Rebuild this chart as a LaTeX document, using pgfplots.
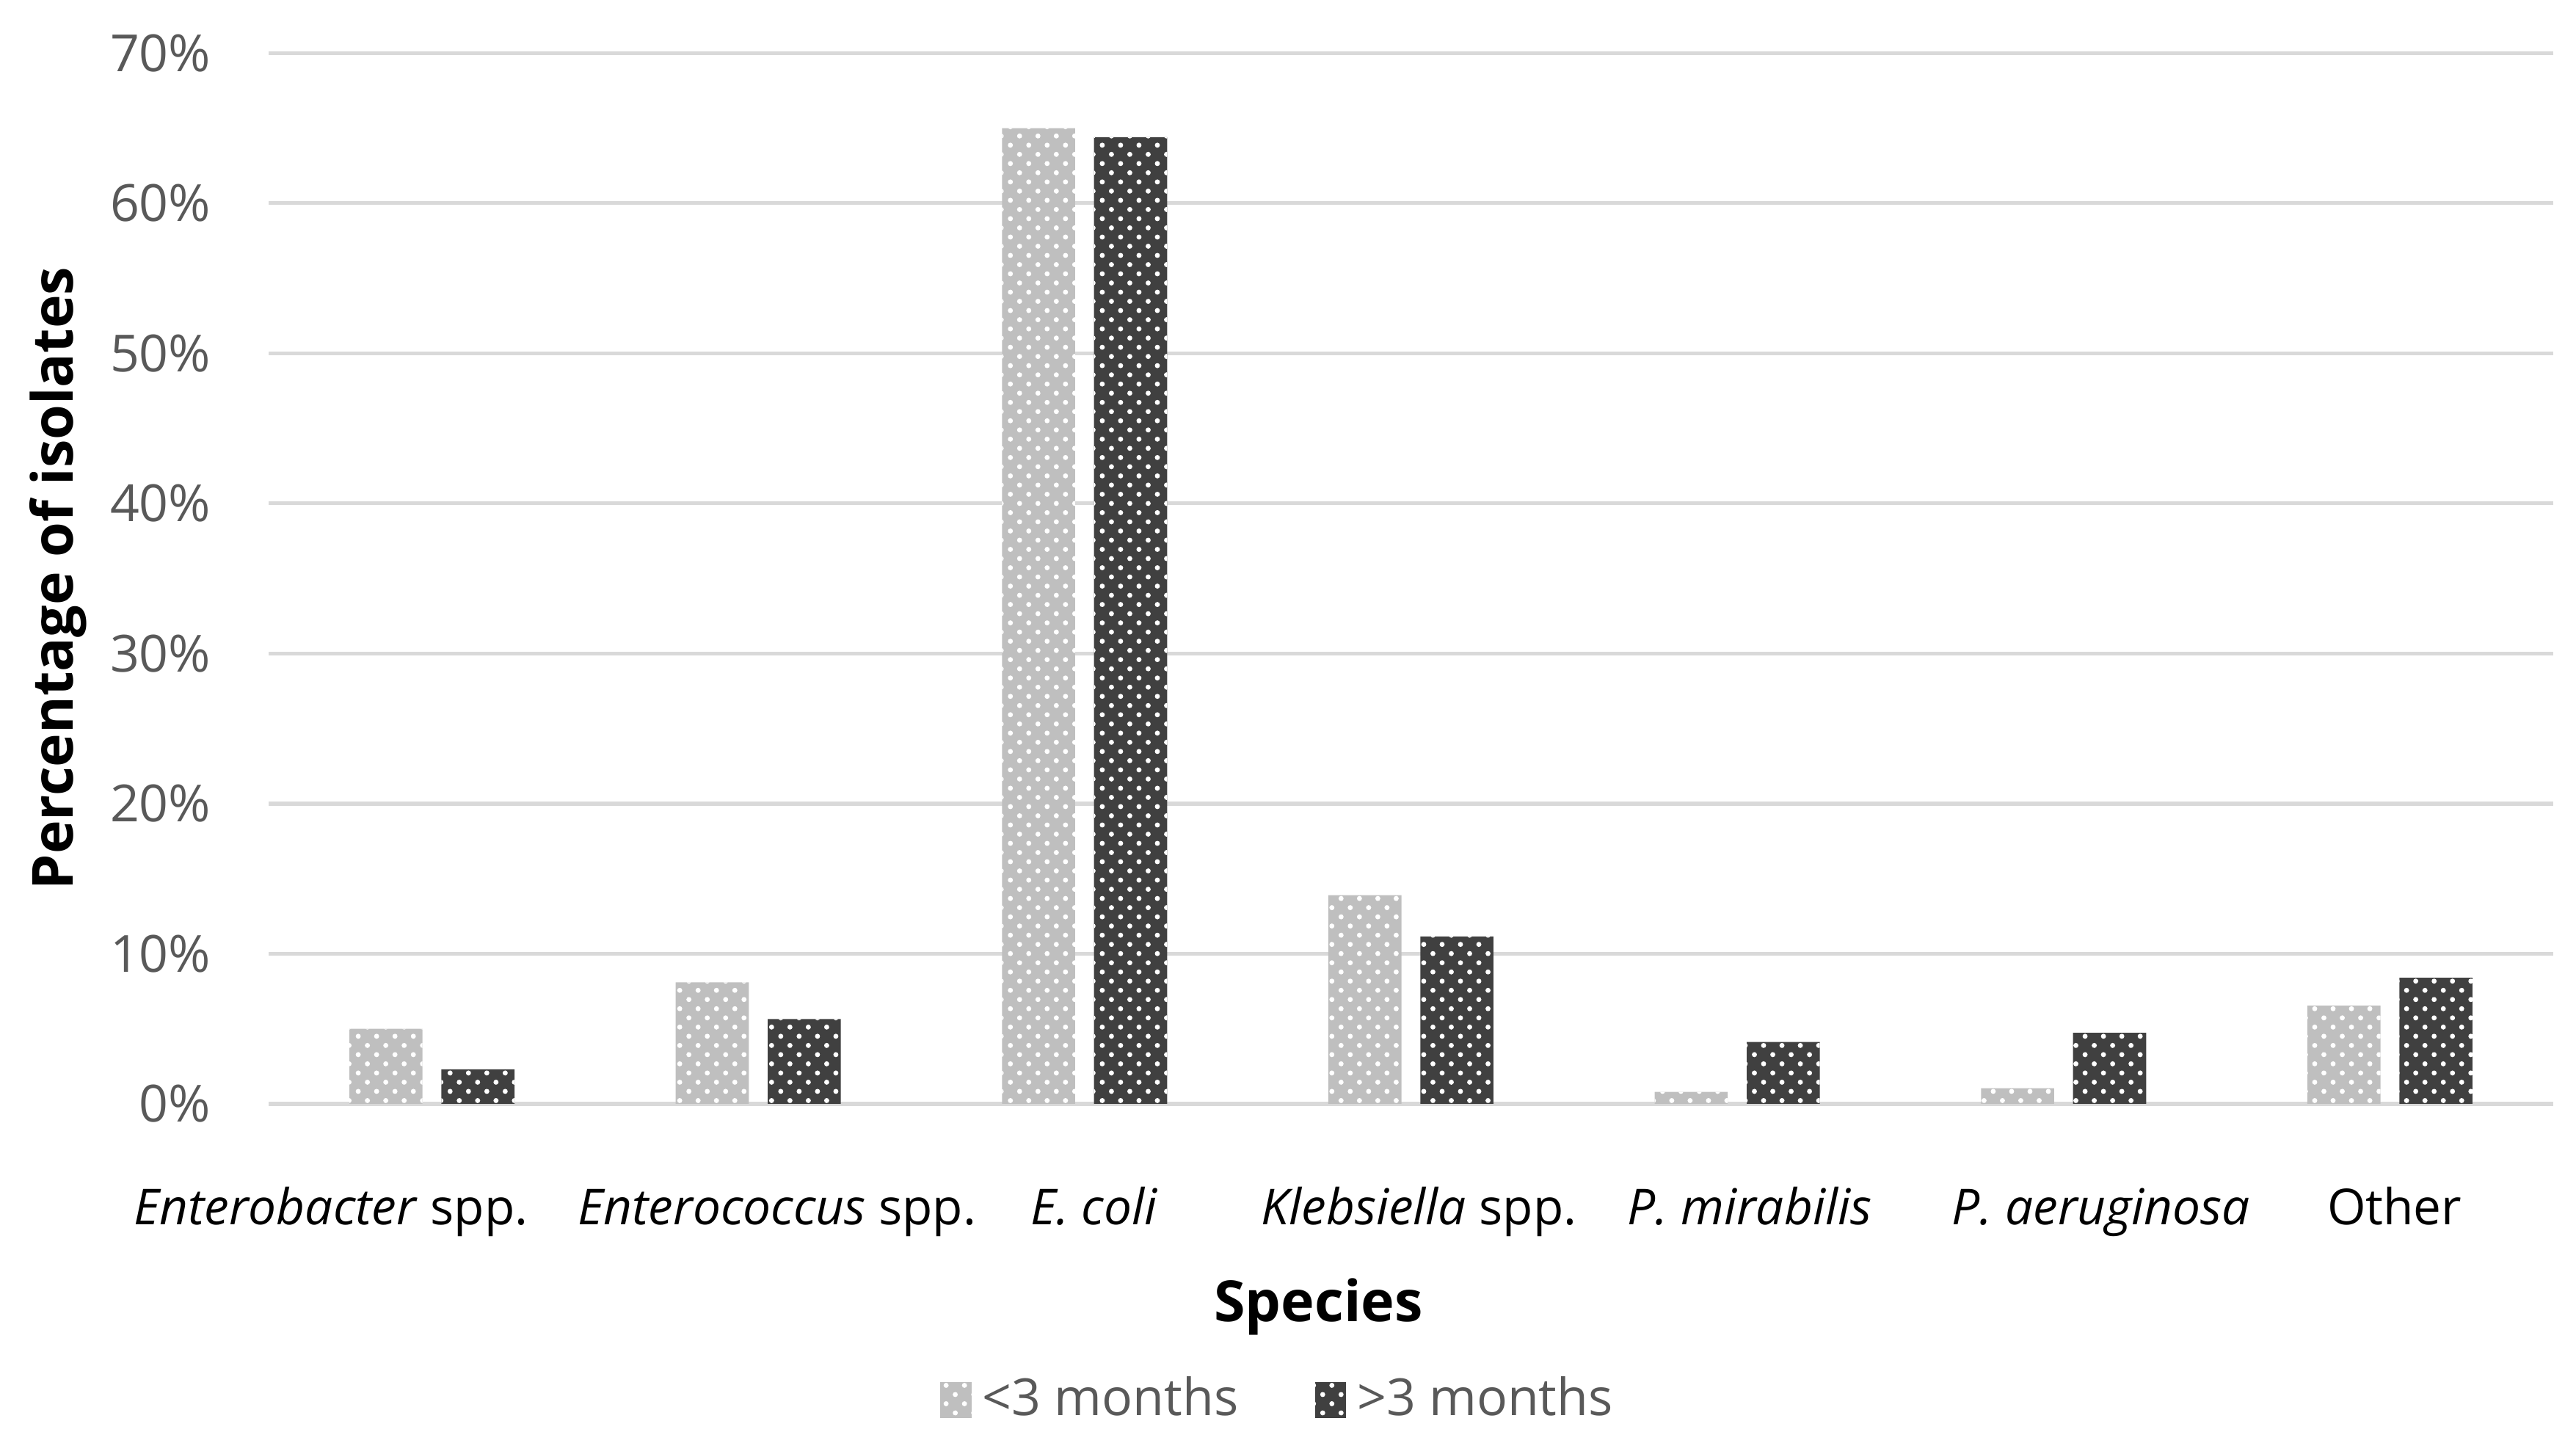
\documentclass[border=0pt]{standalone}
\usepackage{fontspec}
\setmainfont{Open Sans}
\usepackage{pgfplots}
\pgfplotsset{compat=1.18}
\usetikzlibrary{patterns.meta}

\definecolor{lightbar}{HTML}{BFBFBF}
\definecolor{darkbar}{HTML}{404040}
\definecolor{gridgray}{HTML}{D9D9D9}
\definecolor{ticktext}{HTML}{595959}

\begin{document}
\begin{tikzpicture}
\useasboundingbox (-48.83pt,-59.47pt) rectangle (419.17pt,200.53pt);
\begin{axis}[
    at={(0,0)}, anchor=south west,
    scale only axis,
    width=415pt, height=190.9pt,
    ybar, bar width=0.224,
    xmin=-0.5, xmax=6.5,
    ymin=0, ymax=70,
    ytick={0,10,...,70},
    yticklabel={\pgfmathprintnumber{\tick}\%},
    xtick={-0.309,1.058,2.029,3.025,4.038,5.115,6.014},
    xticklabels={
        \textit{Enterobacter} spp.,
        \textit{Enterococcus} spp.,
        \textit{E. coli},
        \textit{Klebsiella} spp.,
        \textit{P. mirabilis},
        \textit{P. aeruginosa},
        Other},
    major tick length=0pt,
    ymajorgrids,
    grid style={gridgray, line width=0.7pt},
    axis line style={draw=none},
    yticklabel style={ticktext, xshift=-7pt, font=\fontsize{9.3}{11}\selectfont,
        /pgf/number format/assume math mode=true},
    xticklabel style={black, anchor=base, yshift=-22pt, font=\fontsize{9}{11}\selectfont},
    legend columns=2,
    legend style={draw=none, at={(0.4436,-0.2818)}, anchor=center,
        font=\fontsize{9.3}{11}\selectfont, text=ticktext,
        /tikz/every even column/.append style={column sep=11.9pt}},
    legend image code/.code={\fill[#1] (0pt,-3.25pt) rectangle (5.7pt,3.25pt);},
]

\addplot[fill=lightbar, draw=none, bar shift=-0.141,
    postaction={pattern={Dots[distance=2.36pt, radius=0.46pt, angle=45]}, pattern color=white}]
    coordinates {(0,5.0) (1,8.1) (2,65.0) (3,13.9) (4,0.8) (5,1.05) (6,6.55)};
\addlegendentry{<3 months}

\addplot[fill=darkbar, draw=none, bar shift=0.141,
    postaction={pattern={Dots[distance=2.36pt, radius=0.46pt, angle=45]}, pattern color=white}]
    coordinates {(0,2.3) (1,5.65) (2,64.4) (3,11.15) (4,4.13) (5,4.73) (6,8.4)};
\addlegendentry{>3 months}

\end{axis}
\node[anchor=base, font=\bfseries\fontsize{10.3}{12}\selectfont] at (190.7pt,-39.5pt) {Species};
\node[rotate=90, anchor=base, font=\bfseries\fontsize{10.3}{12}\selectfont] at (-35.5pt,95.45pt) {Percentage of isolates};
\end{tikzpicture}
\end{document}
